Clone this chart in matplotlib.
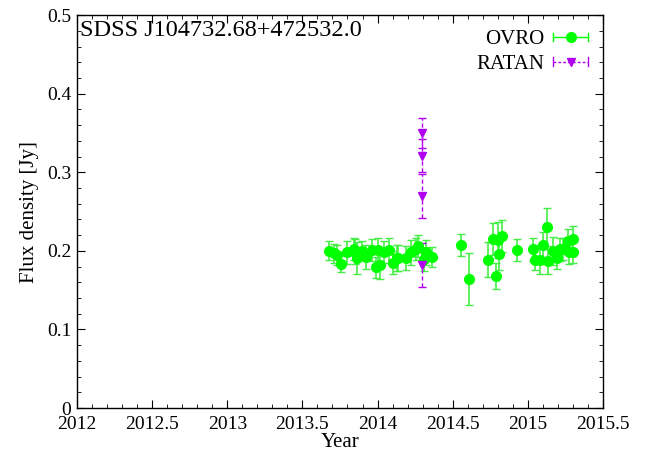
import matplotlib
matplotlib.use("Agg")
import matplotlib.pyplot as plt
from matplotlib.ticker import MultipleLocator
from matplotlib.lines import Line2D
from matplotlib.legend_handler import HandlerBase

plt.rcParams['font.family'] = ['Liberation Serif', 'DejaVu Serif']

# OVRO 15 GHz light curve
ovro_year = [2013.680, 2013.707, 2013.733, 2013.760, 2013.800, 2013.840, 2013.853,
             2013.866, 2013.896, 2013.926, 2013.966, 2013.993, 2014.006, 2014.019,
             2014.040, 2014.074, 2014.102, 2014.129, 2014.133, 2014.186, 2014.220,
             2014.253, 2014.306, 2014.320, 2014.360, 2014.555, 2014.608, 2014.735,
             2014.768, 2014.788, 2014.801, 2014.808, 2014.828, 2014.928, 2015.034,
             2015.047, 2015.080, 2015.100, 2015.127, 2015.134, 2015.167, 2015.193,
             2015.213, 2015.233, 2015.267, 2015.273, 2015.300, 2015.300, 2014.272]
ovro_flux = [0.200, 0.197, 0.195, 0.183, 0.198, 0.203, 0.199, 0.191, 0.200, 0.192,
             0.201, 0.179, 0.201, 0.182, 0.198, 0.201, 0.185, 0.191, 0.191, 0.191,
             0.198, 0.202, 0.190, 0.198, 0.192, 0.208, 0.164, 0.189, 0.215, 0.168,
             0.214, 0.196, 0.219, 0.201, 0.202, 0.189, 0.189, 0.208, 0.230, 0.187,
             0.200, 0.191, 0.202, 0.203, 0.212, 0.198, 0.215, 0.199, 0.206]
ovro_err = [0.012, 0.012, 0.013, 0.010, 0.015, 0.014, 0.016, 0.020, 0.012, 0.015,
            0.014, 0.013, 0.015, 0.018, 0.014, 0.016, 0.015, 0.016, 0.017, 0.015,
            0.016, 0.014, 0.015, 0.016, 0.013, 0.014, 0.033, 0.022, 0.020, 0.017,
            0.023, 0.020, 0.020, 0.014, 0.015, 0.013, 0.018, 0.016, 0.024, 0.016,
            0.018, 0.014, 0.015, 0.014, 0.016, 0.015, 0.017, 0.014, 0.014]

# RATAN-600 measurements
ratan_year = [2014.295, 2014.295, 2014.295, 2014.295]
ratan_flux = [0.350, 0.321, 0.270, 0.182]
ratan_err = [0.019, 0.021, 0.028, 0.028]

OVRO_C = '#00ff00'
RATAN_C = '#b000f0'


class HandlerCapped(HandlerBase):
    """Legend key drawn as a horizontal bar with end caps and a centred marker."""

    def __init__(self, color, marker, msize, ls):
        super().__init__()
        self.color, self.marker, self.msize, self.ls = color, marker, msize, ls

    def create_artists(self, legend, orig_handle, xdescent, ydescent,
                       width, height, fontsize, trans):
        y = height / 2 - ydescent
        x0, x1 = -xdescent, width - xdescent
        cap = 0.3 * height
        arts = [
            Line2D([x0, x1], [y, y], color=self.color, lw=1.0, ls=self.ls),
            Line2D([x0, x0], [y - cap, y + cap], color=self.color, lw=1.0),
            Line2D([x1, x1], [y - cap, y + cap], color=self.color, lw=1.0),
            Line2D([(x0 + x1) / 2], [y], color=self.color, marker=self.marker,
                   markersize=self.msize, ls='none'),
        ]
        for a in arts:
            a.set_transform(trans)
        return arts


fig = plt.figure(figsize=(6.59, 4.57), dpi=100)
ax = fig.add_axes([0.1168, 0.107, 0.7982, 0.860])

h1 = ax.errorbar(ovro_year, ovro_flux, yerr=ovro_err, fmt='o', color=OVRO_C,
                 ecolor='#44ee44', elinewidth=1.2, capsize=3, capthick=1.0,
                 markersize=7, linestyle='none', label='OVRO')
h2 = ax.errorbar(ratan_year, ratan_flux, yerr=ratan_err, fmt='v', color=RATAN_C,
                 ecolor=RATAN_C, elinewidth=1.0, capsize=3, capthick=1.0,
                 markersize=6, linestyle='none', label='RATAN')
for bar in h2[2]:
    bar.set_linestyle((0, (3, 2)))

ax.set_xlim(2012, 2015.5)
ax.set_ylim(0, 0.5)
ax.xaxis.set_minor_locator(MultipleLocator(0.1))
ax.yaxis.set_minor_locator(MultipleLocator(0.02))
ax.set_xticks([2012, 2012.5, 2013, 2013.5, 2014, 2014.5, 2015, 2015.5])
ax.set_xticklabels(['2012', '2012.5', '2013', '2013.5', '2014', '2014.5', '2015', '2015.5'])
ax.set_yticks([0, 0.1, 0.2, 0.3, 0.4, 0.5])
ax.set_yticklabels(['0', '0.1', '0.2', '0.3', '0.4', '0.5'])
ax.tick_params(which='both', direction='in', top=True, right=True, labelsize=14)
ax.tick_params(which='major', length=6, width=0.8)
ax.tick_params(which='minor', length=3, width=0.6)
ax.tick_params(axis='x', pad=6)
ax.tick_params(axis='y', pad=4)
for s in ax.spines.values():
    s.set_linewidth(1.0)

ax.set_xlabel('Year', fontsize=15, labelpad=0)
ax.set_ylabel('Flux density [Jy]', fontsize=15, labelpad=6)

ax.text(0.005, 0.988, 'SDSS J104732.68+472532.0', transform=ax.transAxes,
        ha='left', va='top', fontsize=17.5)

ax.legend([h1, h2], ['OVRO', 'RATAN'], loc='upper right', frameon=False,
          markerfirst=False, fontsize=15, handlelength=1.7, handletextpad=0.4,
          labelspacing=0.25, borderaxespad=0.3,
          handler_map={h1: HandlerCapped(OVRO_C, 'o', 7, '-'),
                       h2: HandlerCapped(RATAN_C, 'v', 6, (0, (2, 1.5)))})

fig.savefig('out.png', dpi=100)
